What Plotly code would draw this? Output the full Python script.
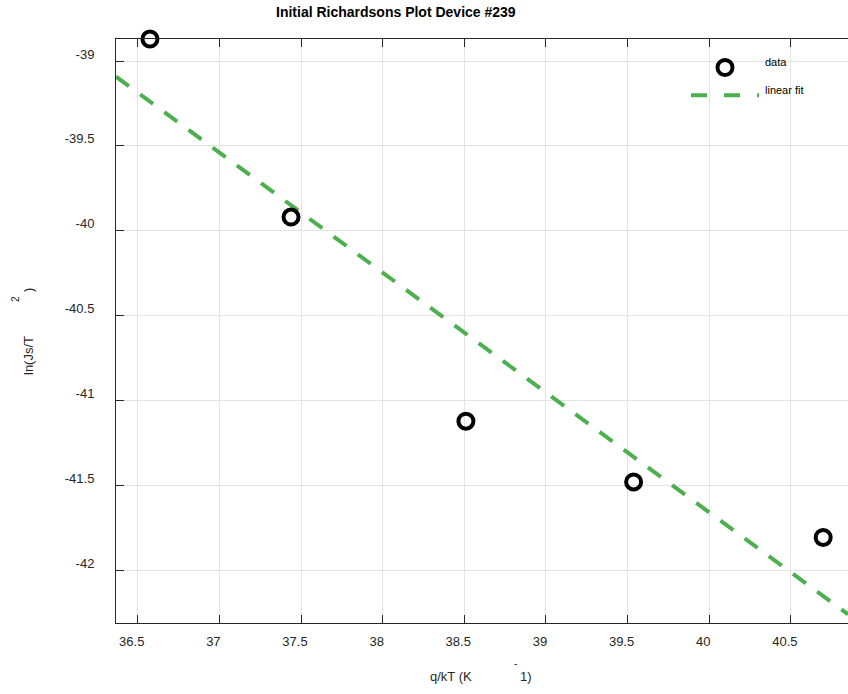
import plotly.graph_objects as go

# Data
x_data = [36.575, 37.439, 38.51, 39.537, 40.698]
y_data = [-38.870, -39.919, -41.122, -41.480, -41.807]
fit_x = [36.367, 40.85]
fit_y = [-39.092, -42.260]

x_ticks = [36.5, 37, 37.5, 38, 38.5, 39, 39.5, 40, 40.5]
x_ticklabels = ["36.5", "37", "37.5", "38", "38.5", "39", "39.5", "40", "40.5"]
y_ticks = [-42, -41.5, -41, -40.5, -40, -39.5, -39]
y_ticklabels = ["-42", "-41.5", "-41", "-40.5", "-40", "-39.5", "-39"]

FONT = "Liberation Sans, Arial, sans-serif"
GREEN = "#4cb04f"
TXT = "#262626"

fig = go.Figure()
fig.add_trace(go.Scatter(
    x=fit_x, y=fit_y, mode="lines", name="linear fit",
    line=dict(color=GREEN, width=4, dash="16px,14px"),
    showlegend=False,
))
fig.add_trace(go.Scatter(
    x=x_data, y=y_data, mode="markers", name="data",
    marker=dict(symbol="circle-open", size=15, color="black", line=dict(width=4, color="black")),
    cliponaxis=False, showlegend=False,
))

axis_common = dict(
    showline=True, linecolor="#262626", linewidth=1,
    ticks="inside", ticklen=8, tickcolor="#262626", tickwidth=1,
    showgrid=True, gridcolor="#e3e3e3", gridwidth=1,
    zeroline=False,
    tickfont=dict(family=FONT, size=13, color=TXT),
)

fig.update_xaxes(
    range=[36.367, 40.85], tickvals=x_ticks, ticktext=x_ticklabels,
    mirror="ticks", ticklabelshift=-6, ticklabelstandoff=6, **axis_common,
)
fig.update_yaxes(
    range=[-42.311, -38.870], tickvals=y_ticks, ticktext=y_ticklabels,
    mirror=False, ticklabelshift=-7, ticklabelstandoff=18, **axis_common,
)

W, H = 848, 694
L, R, T, B = 116, 0, 39, 71
PW, PH = W - L - R, H - T - B

def px(x):
    return (x - L) / PW

def py(y):
    return (H - B - y) / PH

annotations = [
    dict(text="<b>Initial Richardsons Plot Device #239</b>", x=px(396), y=py(12.5),
         font=dict(family=FONT, size=14, color="black")),
    dict(text="q/kT (K", x=px(451), y=py(676), font=dict(family=FONT, size=13, color=TXT)),
    dict(text="-", x=px(515), y=py(663), font=dict(family=FONT, size=10, color=TXT)),
    dict(text="1)", x=px(526), y=py(676), font=dict(family=FONT, size=13, color=TXT)),
    dict(text="ln(Js/T", x=px(28), y=py(356), textangle=-90, font=dict(family=FONT, size=13, color=TXT)),
    dict(text="2", x=px(15), y=py(299), textangle=-90, font=dict(family=FONT, size=10, color=TXT)),
    dict(text=")", x=px(28), y=py(290), textangle=-90, font=dict(family=FONT, size=13, color=TXT)),
    dict(text="data", x=px(763), y=py(62.5), xanchor="left", font=dict(family=FONT, size=11, color="black")),
    dict(text="linear fit", x=px(763), y=py(89.5), xanchor="left", font=dict(family=FONT, size=11, color="black")),
]
for a in annotations:
    a.setdefault("xanchor", "center")
    a.update(xref="paper", yref="paper", yanchor="middle", showarrow=False)

shapes = [
    # legend marker
    dict(type="circle", xref="paper", yref="paper", xsizemode="pixel", ysizemode="pixel",
         xanchor=px(725), yanchor=py(67.5), x0=-7.5, x1=7.5, y0=-7.5, y1=7.5,
         line=dict(color="black", width=4)),
    # legend line
    dict(type="line", xref="paper", yref="paper", x0=px(691), x1=px(759), y0=py(95.3), y1=py(95.3),
         line=dict(color=GREEN, width=4, dash="16px,17px")),
]

fig.update_layout(
    width=W, height=H,
    margin=dict(l=L, r=R, t=T, b=B, pad=0),
    paper_bgcolor="white", plot_bgcolor="white",
    showlegend=False,
    annotations=annotations,
    shapes=shapes,
)

fig.write_html("out.html")
